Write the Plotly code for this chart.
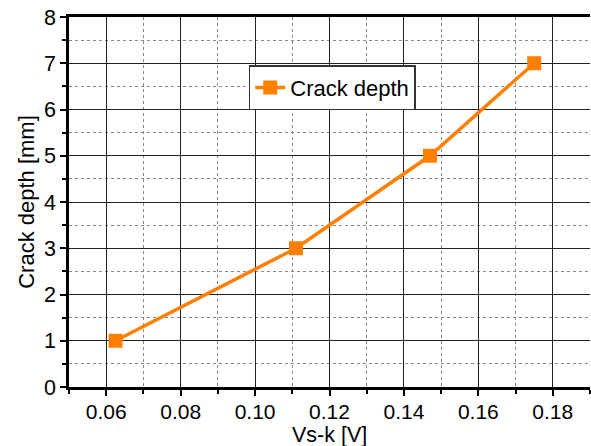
import plotly.graph_objects as go

# Crack depth measured against the Vs-k voltage
vsk_volts = [0.0625, 0.111, 0.147, 0.175]
crack_depth_mm = [1, 3, 5, 7]
series_name = "Crack depth"
x_title = "Vs-k [V]"
y_title = "Crack depth [mm]"

x_ticks = [0.06, 0.08, 0.10, 0.12, 0.14, 0.16, 0.18]
x_tick_text = ["0.06", "0.08", "0.10", "0.12", "0.14", "0.16", "0.18"]
y_ticks = [0, 1, 2, 3, 4, 5, 6, 7, 8]

orange = "#FF8000"
font_family = "Liberation Sans, Arial, sans-serif"

fig = go.Figure()
fig.add_trace(go.Scatter(
    x=vsk_volts, y=crack_depth_mm, name=series_name,
    mode="lines+markers",
    line=dict(color=orange, width=3.5),
    marker=dict(symbol="square", size=14, color=orange),
    showlegend=True,
))

fig.update_layout(
    width=591, height=446,
    margin=dict(l=69, r=1, t=17, b=59),
    paper_bgcolor="white", plot_bgcolor="white",
    font=dict(family=font_family, size=22, color="black"),
    showlegend=True,
    legend=dict(
        x=0.345, y=0.87, xanchor="left", yanchor="top",
        bgcolor="white", bordercolor="#333333", borderwidth=1.5,
        font=dict(size=22), itemwidth=30,
        tracegroupgap=0,
    ),
)

# x-axis title drawn as an annotation so it can sit below the tick labels
fig.add_annotation(
    text=x_title, xref="paper", yref="paper", x=0.5, y=0,
    xanchor="center", yanchor="top", yshift=-35, showarrow=False,
    borderpad=0,
    font=dict(size=21.5, family=font_family, color="black"),
)

fig.update_xaxes(
    range=[0.05, 0.19],
    tickvals=x_ticks, ticktext=x_tick_text,
    ticks="outside", ticklen=6, tickwidth=2, tickcolor="black",
    ticklabelstandoff=-2,
    showline=True, linewidth=2.5, linecolor="black", mirror=True,
    showgrid=True, gridcolor="#222222", gridwidth=1,
    minor=dict(dtick=0.01, ticks="outside", ticklen=4, tickwidth=2,
               tickcolor="black", showgrid=True, gridcolor="#888888",
               griddash="dot", gridwidth=1),
    zeroline=False,
    tickfont=dict(size=21),
)

fig.update_yaxes(
    range=[0, 8],
    tickvals=y_ticks,
    ticks="outside", ticklen=6, tickwidth=2, tickcolor="black",
    showline=True, linewidth=2.5, linecolor="black", mirror=False,
    showgrid=True, gridcolor="#222222", gridwidth=1,
    minor=dict(dtick=0.5, ticks="outside", ticklen=4, tickwidth=2,
               tickcolor="black", showgrid=True, gridcolor="#888888",
               griddash="dot", gridwidth=1),
    zeroline=False,
    title=dict(text=y_title, standoff=4, font=dict(size=22)),
    tickfont=dict(size=21.5),
)

fig.write_html("out.html")
